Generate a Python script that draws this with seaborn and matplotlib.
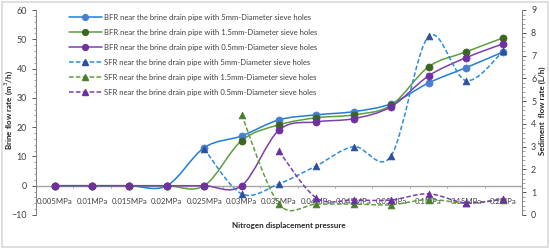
import numpy as np
import pandas as pd
import matplotlib
matplotlib.use("Agg")
import matplotlib.pyplot as plt
import seaborn as sns
from matplotlib.path import Path
from matplotlib.patches import PathPatch, Rectangle
from matplotlib.lines import Line2D
from matplotlib.ticker import MultipleLocator

pressures = ["0.005MPa", "0.01MPa", "0.015MPa", "0.02MPa", "0.025MPa", "0.03MPa",
             "0.035MPa", "0.04MPa", "0.045MPa", "0.05MPa", "0.1MPa", "0.15MPa", "0.2MPa"]

# brine flow rate (m3/h), left axis
bfr_5mm = [0, 0, 0, 0, 13, 17, 22.5, 24.2, 25.3, 28, 35.1, 40.3, 45.7]
bfr_15mm = [0, 0, 0, 0, 0, 15.4, 20.8, 23.2, 24.2, 27.5, 40.6, 45.7, 50.5]
bfr_05mm = [0, 0, 0, 0, 0, 0, 19, 21.8, 22.9, 27, 37.5, 43.7, 48.5]

# sediment flow rate (L/h), right axis
sfr_5mm = [np.nan, np.nan, np.nan, np.nan, 2.9, 0.93, 1.37, 2.16, 3.0, 2.6, 7.84, 5.9, 7.2]
sfr_15mm = [np.nan, np.nan, np.nan, np.nan, np.nan, 4.4, 0.48, 0.48, 0.48, 0.45, 0.68, 0.53, 0.68]
sfr_05mm = [np.nan, np.nan, np.nan, np.nan, np.nan, np.nan, 2.8, 0.75, 0.66, 0.66, 0.93, 0.53, 0.7]

FONT = ["Lato", "DejaVu Sans"]


def smooth_path(xs, ys):
    """Excel-like smoothed line through the points (cubic Bezier segments)."""
    pts = [(x, y) for x, y in zip(xs, ys) if not np.isnan(y)]
    pts = np.array(pts, dtype=float)
    n = len(pts)
    verts = [pts[0]]
    codes = [Path.MOVETO]
    for i in range(n - 1):
        p0 = pts[i - 1] if i > 0 else pts[i]
        p1 = pts[i]
        p2 = pts[i + 1]
        p3 = pts[i + 2] if i + 2 < n else pts[i + 1]
        c1 = p1 + (p2 - p0) / 6.0
        c2 = p2 - (p3 - p1) / 6.0
        verts += [c1, c2, p2]
        codes += [Path.CURVE4] * 3
    return Path(verts, codes)


sns.set_style("white")
plt.rcParams["font.family"] = FONT

fig = plt.figure(figsize=(5.5, 2.5), dpi=100)
fig.patches.append(Rectangle((0.003, 0.012), 0.994, 0.98, transform=fig.transFigure,
                             fill=False, edgecolor="#d9d9d9", linewidth=1.2))
ax = fig.add_axes([36 / 550, 1 - 215 / 250, (522 - 36) / 550, (215 - 10) / 250])
ax2 = ax.twinx()

x = np.arange(len(pressures))

bfr_series = [
    (bfr_5mm, "#1f7fd6", "#4a7fcf", "BFR near the brine drain pipe with 5mm-Diameter sieve holes"),
    (bfr_15mm, "#5f9e3c", "#3b6520", "BFR near the brine drain pipe with 1.5mm-Diameter sieve holes"),
    (bfr_05mm, "#7b3fb0", "#7030a0", "BFR near the brine drain pipe with 0.5mm-Diameter sieve holes"),
]
sfr_series = [
    (sfr_5mm, "#2b8de0", "#2f4f9a", "SFR near the brine drain pipe with 5mm-Diameter sieve holes"),
    (sfr_15mm, "#5f9e3c", "#4a7f2a", "SFR near the brine drain pipe with 1.5mm-Diameter sieve holes"),
    (sfr_05mm, "#7b3fb0", "#6a2fa0", "SFR near the brine drain pipe with 0.5mm-Diameter sieve holes"),
]

handles = []
for vals, lc, mc, label in bfr_series:
    ax.add_patch(PathPatch(smooth_path(x, vals), fill=False, edgecolor=lc, linewidth=1.1, zorder=3))
    df = pd.DataFrame({"x": x, "y": vals})
    sns.scatterplot(data=df, x="x", y="y", ax=ax, color=mc, s=26, marker="o",
                    edgecolor=mc, linewidth=0.5, zorder=4, legend=False)
    handles.append(Line2D([], [], color=lc, linewidth=1.1, marker="o", markersize=4.2,
                          markerfacecolor=mc, markeredgecolor=mc, label=label))

for vals, lc, mc, label in sfr_series:
    ax2.add_patch(PathPatch(smooth_path(x, vals), fill=False, edgecolor=lc, linewidth=1.1,
                            linestyle=(0, (3, 1.5)), zorder=3))
    df = pd.DataFrame({"x": x, "y": vals}).dropna()
    sns.scatterplot(data=df, x="x", y="y", ax=ax2, color=mc, s=24, marker="^",
                    edgecolor=mc, linewidth=0.5, zorder=4, legend=False)
    handles.append(Line2D([], [], color=lc, linewidth=1.1, linestyle=(0, (3, 1.5)), marker="^",
                          markersize=4.2, markerfacecolor=mc, markeredgecolor=mc, label=label))

# left axis
ax.set_xlim(-0.5, len(pressures) - 0.5)
ax.set_ylim(-10, 60)
ax.yaxis.set_major_locator(MultipleLocator(10))
ax.yaxis.set_minor_locator(MultipleLocator(2))
ax.axhline(0, color="#a6a6a6", linewidth=1.0, zorder=1)
ax.set_xticks(x)
ax.set_xticklabels(pressures)
ax.tick_params(axis="x", which="both", length=0, labelsize=5.6, colors="#404040", pad=-12)
ax.tick_params(axis="y", which="major", length=3, width=0.6, labelsize=6.4, colors="#404040",
               direction="out", left=True)
ax.tick_params(axis="y", which="minor", length=1.8, width=0.5, left=True, colors="#808080")
ax.set_ylabel("Brine flow rate (m$^3$/h)", fontsize=5.8, fontweight="bold")
ax.yaxis.set_label_coords(-0.043, 0.51)
ax.set_xlabel("Nitrogen displacement pressure", fontsize=5.8, fontweight="bold")
ax.xaxis.set_label_coords(0.52, -0.035)

# boundary ticks on the zero line
for b in np.arange(0.5, len(pressures) - 1, 1):
    ax.plot([b, b], [0, -0.9], color="#a6a6a6", linewidth=0.6, zorder=1)

# right axis
ax2.set_ylim(0, 9)
ax2.yaxis.set_major_locator(MultipleLocator(1))
ax2.yaxis.set_minor_locator(MultipleLocator(0.2))
ax2.tick_params(axis="y", which="major", length=3, width=0.6, labelsize=6.4, colors="#404040",
                right=True)
ax2.tick_params(axis="y", which="minor", length=1.8, width=0.5, right=True, colors="#808080")
ax2.set_ylabel("Sediment  flow rate (L/h)", fontsize=5.8, fontweight="bold")
ax2.yaxis.set_label_coords(1.035, 0.51)

for a in (ax, ax2):
    for side in ("top", "bottom"):
        a.spines[side].set_visible(False)
    a.spines["left"].set_color("#808080")
    a.spines["right"].set_color("#808080")
    a.spines["left"].set_linewidth(0.7)
    a.spines["right"].set_linewidth(0.7)
ax.spines["right"].set_visible(False)
ax2.spines["left"].set_visible(False)

leg = ax2.legend(handles=handles, loc="upper left", bbox_to_anchor=(0.058, 1.005), frameon=False,
                 fontsize=5.5, handlelength=4.3, handletextpad=0.3, labelspacing=1.05,
                 borderaxespad=0.2)
for t in leg.get_texts():
    t.set_color("#404040")

fig.savefig("out.png", dpi=100)
